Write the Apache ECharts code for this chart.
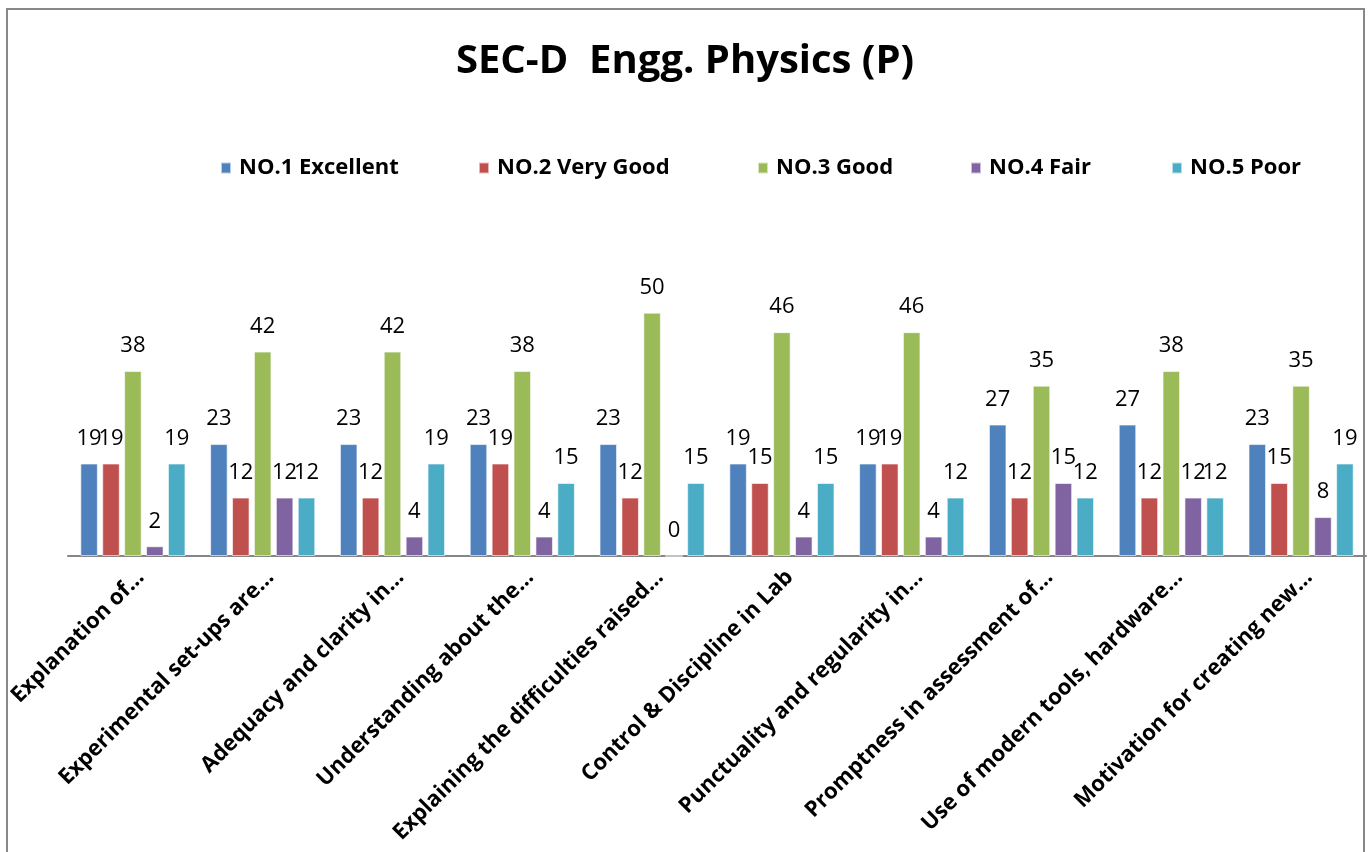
<!DOCTYPE html>
<html>
<head>
<meta charset="utf-8">
<script src="https://cdn.jsdelivr.net/npm/echarts@6/dist/echarts.min.js"></script>
<style>
html,body{margin:0;padding:0;background:#fff;}
#chart{width:1370px;height:852px;}
</style>
</head>
<body>
<div id="chart"></div>
<script>
const categories = [
  "Explanation of…",
  "Experimental set-ups are…",
  "Adequacy and clarity in…",
  "Understanding about the…",
  "Explaining the difficulties raised…",
  "Control & Discipline in Lab",
  "Punctuality and regularity in…",
  "Promptness in assessment of…",
  "Use of modern tools, hardware…",
  "Motivation for creating new…"
];
const seriesNames = ["NO.1 Excellent", "NO.2 Very Good", "NO.3 Good", "NO.4 Fair", "NO.5 Poor"];
const excellent = [19, 23, 23, 23, 23, 19, 19, 27, 27, 23];
const veryGood  = [19, 12, 12, 19, 12, 15, 19, 12, 12, 15];
const good      = [38, 42, 42, 38, 50, 46, 46, 35, 38, 35];
const fair      = [2, 12, 4, 4, 0, 4, 4, 15, 12, 8];
const poor      = [19, 12, 19, 15, 15, 15, 12, 12, 12, 19];
const colors = ["#4F81BD", "#C0504D", "#9BBB59", "#8064A2", "#4BACC6"];
const values = [excellent, veryGood, good, fair, poor];

const chart = echarts.init(document.getElementById('chart'));
const legendLefts = [215, 473, 752, 965, 1166];
const legends = seriesNames.map((n, i) => ({
  data: [n],
  left: legendLefts[i],
  top: 152,
  itemWidth: 10,
  itemHeight: 11,
  itemGap: 0,
  icon: 'rect',
  textStyle: {fontFamily: 'Open Sans', fontWeight: 'bold', fontSize: 22, color: '#000', padding: [0,0,0,3]}
}));
chart.setOption({
  animation: false,
  backgroundColor: '#fff',
  title: {
    text: 'SEC-D  Engg. Physics (P)',
    left: 'center',
    top: 37,
    textStyle: {fontFamily: 'Open Sans', fontWeight: 'bold', fontSize: 40, color: '#000'}
  },
  graphic: [{
    type: 'rect',
    shape: {x: 7, y: 9, width: 1357, height: 900},
    style: {fill: 'none', stroke: '#888', lineWidth: 2},
    silent: true
  }],
  legend: legends,
  grid: {left: 68, right: 4, top: 264, bottom: 296},
  xAxis: {
    type: 'category',
    data: categories,
    axisLine: {lineStyle: {color: '#868686', width: 2}},
    axisTick: {show: false},
    axisLabel: {
      interval: 0, rotate: 45, margin: 10, verticalAlign: 'top',
      fontFamily: 'Open Sans', fontWeight: 'bold', fontSize: 22, color: '#000'
    }
  },
  yAxis: {
    type: 'value', min: 0, max: 60,
    show: false
  },
  series: seriesNames.map((n, i) => ({
    name: n,
    type: 'bar',
    data: values[i],
    barGap: '25%',
    barCategoryGap: '19%',
    itemStyle: {color: colors[i], borderColor: 'rgba(255,255,255,0.6)', borderWidth: 1},
    label: {
      show: true, position: 'top', distance: 14,
      fontFamily: 'Open Sans', fontSize: 22, color: '#000'
    }
  }))
});
</script>
</body>
</html>
